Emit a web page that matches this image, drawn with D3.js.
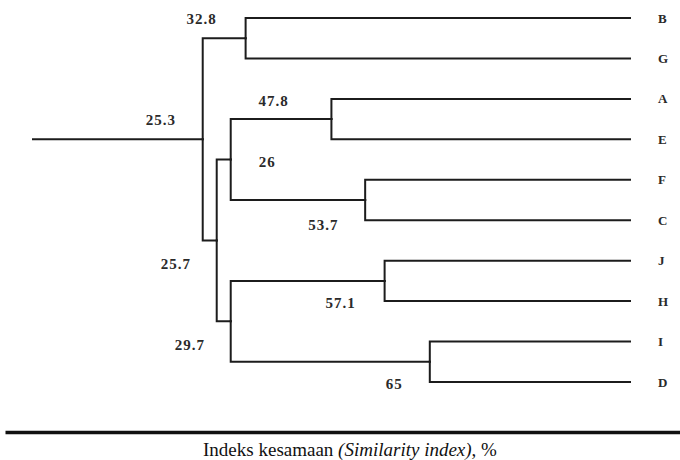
<!DOCTYPE html>
<html>
<head>
<meta charset="utf-8">
<script src="https://cdn.jsdelivr.net/npm/d3@7"></script>
<style>
  body { margin: 0; background: #fff; }
  svg { display: block; font-family: 'Liberation Serif', 'Times New Roman', serif; }
  .link { fill: none; stroke: #1c1c1c; stroke-width: 2; stroke-linecap: square; }
  .sim { font-weight: bold; font-size: 15px; fill: #2a2a2a; letter-spacing: 1px; }
  .leaf { font-weight: bold; font-size: 13px; fill: #2a2a2a; }
  .title { font-size: 19px; fill: #111; }
</style>
</head>
<body>
<svg id="chart" width="680" height="460"></svg>
<script>
// leaves, top to bottom
var leaves = ['B', 'G', 'A', 'E', 'F', 'C', 'J', 'H', 'I', 'D'];

// clusters, each joins two members at a similarity (%)
var clusterNames = ['BG', 'AE', 'FC', 'JH', 'ID', 'AEFC', 'JHID', 'AEFCJHID', 'ALL'];
var clusterSim = [32.8, 47.8, 53.7, 57.1, 65, 26, 29.7, 25.7, 25.3];
var clusterKids = [
  ['B', 'G'], ['A', 'E'], ['F', 'C'], ['J', 'H'], ['I', 'D'],
  ['AE', 'FC'], ['JH', 'ID'], ['AEFC', 'JHID'], ['BG', 'AEFCJHID']
];

// where each similarity label sits relative to its node [dx, dy]
var labelOffset = {
  BG: [-59, -14], AE: [-73, -13], FC: [-57, 30], JH: [-59, 27], ID: [-44, 27],
  AEFC: [28, 7], JHID: [-56, 29], AEFCJHID: [-56, 29], ALL: [-57, -14]
};

var svg = d3.select('#chart');
var rootStubX = 33;
var minGap = 14;

var x = d3.scaleLinear().domain([0, 100]).range([58, 630]);
var y = d3.scalePoint().domain(leaves).range([18, 382]);

function buildNode(name) {
  var i = clusterNames.indexOf(name);
  if (i < 0) {
    return { name: name, sim: 100 };
  }
  return {
    name: name,
    sim: clusterSim[i],
    children: clusterKids[i].map(buildNode)
  };
}

var root = d3.hierarchy(buildNode('ALL'));

// vertical position: leaves on their rows, joins in the middle of their kids
root.eachAfter(function placeY(node) {
  if (!node.children) {
    node.y = y(node.data.name);
  } else {
    node.y = d3.mean(node.children, function (c) { return c.y; });
  }
});

// horizontal position: similarity scale, pushed right a little so the
// close joins near the root stay readable
root.eachBefore(function placeX(node) {
  node.x = x(node.data.sim);
  if (node.parent && !node.children) {
    node.x = x(100);
  } else if (node.parent) {
    node.x = Math.max(node.x, node.parent.x + minGap);
  }
});

var linkLayer = svg.append('g');

linkLayer.selectAll('path.elbow')
  .data(root.links())
  .enter().append('path')
  .attr('class', 'link elbow')
  .attr('d', function (l) {
    return 'M' + l.source.x + ',' + l.source.y +
      'V' + l.target.y + 'H' + l.target.x;
  });

linkLayer.append('path')
  .attr('class', 'link')
  .attr('d', 'M' + rootStubX + ',' + root.y + 'H' + root.x);

svg.append('g').selectAll('text')
  .data(root.descendants().filter(function (d) { return d.children; }))
  .enter().append('text')
  .attr('class', 'sim')
  .attr('x', function (d) { return d.x + labelOffset[d.data.name][0]; })
  .attr('y', function (d) { return d.y + labelOffset[d.data.name][1]; })
  .text(function (d) { return d.data.sim; });

svg.append('g').selectAll('text')
  .data(root.leaves())
  .enter().append('text')
  .attr('class', 'leaf')
  .attr('x', x(100) + 28)
  .attr('y', function (d) { return d.y; })
  .attr('dy', '0.35em')
  .text(function (d) { return d.data.name; });

// bottom rule, no ticks
var axisScale = d3.scaleLinear().domain([0, 100]).range([5, 680]);
svg.append('g')
  .attr('transform', 'translate(0,432)')
  .call(d3.axisBottom(axisScale).tickValues([]).tickSizeOuter(0))
  .select('.domain')
  .attr('stroke', '#111')
  .attr('stroke-width', 3.5);

var title = svg.append('text')
  .attr('class', 'title')
  .attr('x', 350)
  .attr('y', 456)
  .attr('text-anchor', 'middle');
title.append('tspan').text('Indeks kesamaan ');
title.append('tspan').style('font-style', 'italic').text('(Similarity index)');
title.append('tspan').text(', %');
</script>
</body>
</html>
